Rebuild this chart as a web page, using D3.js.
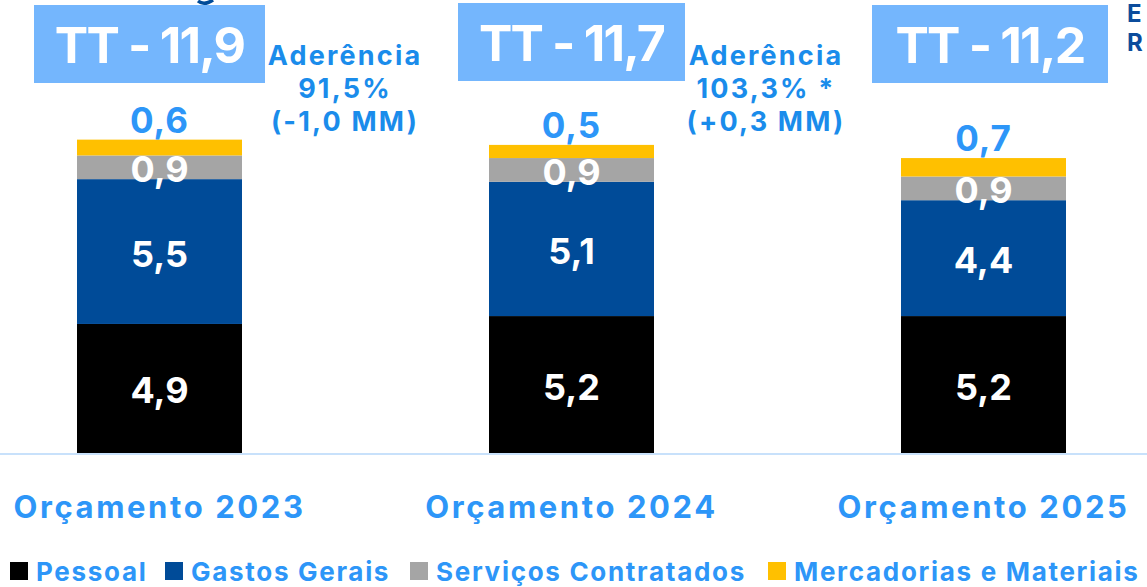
<!DOCTYPE html>
<head>
  <meta charset="utf-8">
  <script src="https://d3js.org/d3.v7.min.js"></script>
  <style>
    body { margin:0; background:#fff; overflow:hidden; }
    text { font-family: Inter, "Noto Sans", sans-serif; font-weight:700; }
  </style>
</head>
<body>
<div id="chart"></div>
<script>
  var width = 1147;
  var height = 587;

  // data
  var categories = ["Orçamento 2023", "Orçamento 2024", "Orçamento 2025"];
  var seriesNames = ["Pessoal", "Gastos Gerais", "Serviços Contratados", "Mercadorias e Materiais"];
  var pessoal = [4.9, 5.2, 5.2];
  var gastosGerais = [5.5, 5.1, 4.4];
  var servicos = [0.9, 0.9, 0.9];
  var mercadorias = [0.6, 0.5, 0.7];
  var aderencia = [
    ["Aderência", "91,5%", "(-1,0 MM)"],
    ["Aderência", "103,3% *", "(+0,3 MM)"]
  ];
  var unitLines = ["E", "R"];

  var colors = ["#000000", "#004b98", "#a5a5a5", "#ffc000"];
  var labelColors = ["#ffffff", "#ffffff", "#ffffff", "#2d96f8"];
  var blue = "#2d96f8";

  var rows = categories.map(function(c, i) {
    return {cat: c, s0: pessoal[i], s1: gastosGerais[i], s2: servicos[i], s3: mercadorias[i]};
  });
  var keys = ["s0", "s1", "s2", "s3"];
  var stacked = d3.stack().keys(keys)(rows);

  var fmt = function(v) { return d3.format(".1f")(v).replace(".", ","); };

  var barWidth = 165;
  var x = d3.scalePoint().domain(categories).range([159.5, 983.5]);
  var y = d3.scaleLinear().domain([0, 12]).range([453, 137]);

  var svg = d3.select("#chart").append("svg")
    .attr("width", width)
    .attr("height", height);

  // cut-off heading fragment at top
  svg.append("path")
    .attr("d", "M198,1 Q204,6 213,0")
    .attr("fill", "none")
    .attr("stroke", "#004b98")
    .attr("stroke-width", 3.5);

  // bars
  var layers = svg.selectAll("g.layer")
    .data(stacked)
    .enter().append("g")
    .attr("class", "layer")
    .attr("fill", function(d, i) { return colors[i]; });

  layers.selectAll("rect")
    .data(function(d) { return d; })
    .enter().append("rect")
    .attr("x", function(d) { return x(d.data.cat) - barWidth / 2; })
    .attr("y", function(d) { return y(d[1]); })
    .attr("width", barWidth)
    .attr("height", function(d) { return y(d[0]) - y(d[1]); });

  // baseline
  svg.append("line")
    .attr("x1", 0).attr("x2", width)
    .attr("y1", y(0) + 1).attr("y2", y(0) + 1)
    .attr("stroke", "#c8e1fb")
    .attr("stroke-width", 2);

  // segment labels
  stacked.forEach(function(layer, li) {
    svg.append("g").selectAll("text")
      .data(layer)
      .enter().append("text")
      .attr("x", function(d) { return x(d.data.cat); })
      .attr("y", function(d) {
        if (li === 3) return y(d[1]) - 7;
        return (y(d[0]) + y(d[1])) / 2 + 15;
      })
      .attr("text-anchor", "middle")
      .attr("font-size", li === 3 ? 35 : 36)
      .attr("letter-spacing", li === 3 ? 1 : 0)
      .attr("fill", labelColors[li])
      .text(function(d) { return fmt(d[1] - d[0]); });
  });

  // total boxes
  var boxOffset = [-10, 0, 6.5];
  var boxW = [231, 227, 236];
  var totals = rows.map(function(r) { return d3.sum(keys, function(k) { return r[k]; }); });
  categories.forEach(function(c, i) {
    var cx = x(c) + boxOffset[i];
    svg.append("rect")
      .attr("x", cx - boxW[i] / 2).attr("y", i === 1 ? 3 : 5)
      .attr("width", boxW[i]).attr("height", 78)
      .attr("fill", "#74b6fd");
    svg.append("text")
      .attr("x", cx).attr("y", (i === 1 ? 3 : 5) + 58)
      .attr("text-anchor", "middle")
      .attr("font-size", 50)
      .attr("letter-spacing", -1.8)
      .attr("fill", "#ffffff")
      .text("TT - " + fmt(totals[i]));
  });

  // aderencia notes
  var noteX = [345, 766];
  aderencia.forEach(function(lines, i) {
    var t = svg.append("text")
      .attr("text-anchor", "middle")
      .attr("font-size", 27)
      .attr("letter-spacing", 2.2)
      .attr("fill", "#1a8ceb");
    lines.forEach(function(l, j) {
      t.append("tspan").attr("x", noteX[i]).attr("y", 65 + j * 33).text(l);
    });
  });

  // unit note (cut off at right in the original)
  unitLines.forEach(function(l, j) {
    svg.append("text")
      .attr("x", 1127).attr("y", 22 + j * 29)
      .attr("font-size", 24)
      .attr("font-weight", 500)
      .attr("fill", "#0b4c9c")
      .text(l);
  });

  // category labels
  svg.append("g").selectAll("text")
    .data(categories)
    .enter().append("text")
    .attr("x", function(d) { return x(d); })
    .attr("y", 518)
    .attr("text-anchor", "middle")
    .attr("font-size", 31)
    .attr("letter-spacing", 2.6)
    .attr("fill", blue)
    .text(function(d) { return d; });

  // legend
  var legendX = [10, 165, 410, 768];
  var legend = svg.append("g");
  seriesNames.forEach(function(n, i) {
    legend.append("rect")
      .attr("x", legendX[i]).attr("y", 562)
      .attr("width", 18).attr("height", 18)
      .attr("fill", colors[i]);
    legend.append("text")
      .attr("x", legendX[i] + 26).attr("y", 581)
      .attr("font-size", 26)
      .attr("letter-spacing", 1.7)
      .attr("fill", blue)
      .text(n);
  });
</script>
</body>
